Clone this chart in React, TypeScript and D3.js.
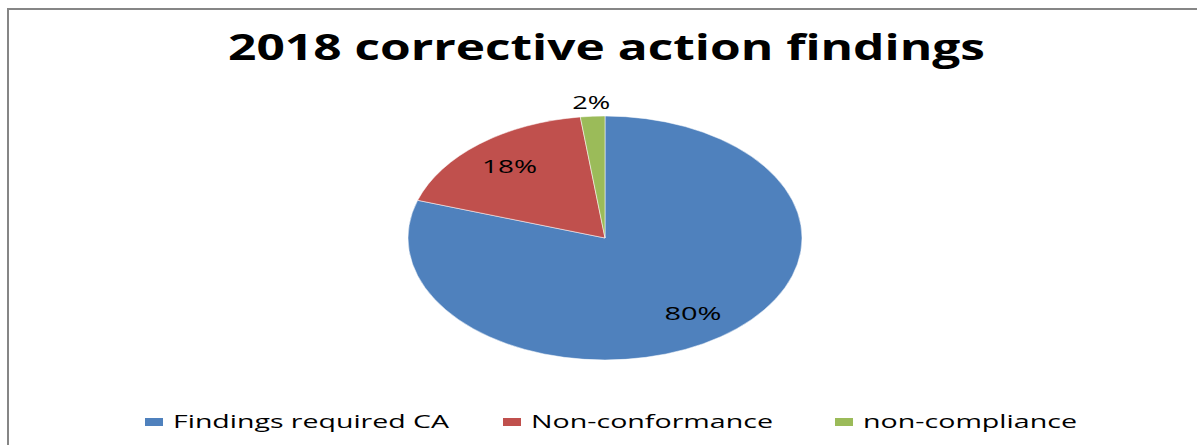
import React from "react";
import * as d3 from "d3";

const categories = ["Findings required CA", "Non-conformance", "non-compliance"];
const values = [80, 18, 2];
const labels = ["80%", "18%", "2%"];
const colors = ["#4F81BD", "#C0504D", "#9BBB59"];
const title = "2018 corrective action findings";

const W = 1197;
const H = 445;
const cx = 605;
const cy = 238;
const rx = 197;
const ry = 122;

// measured label widths in the reference (text is horizontally stretched)
const labelWidths = [57, 55, 38];
const legendTextWidths = [276, 242, 214];
const legendX = [145, 503, 835];

export default function App() {
  const pie = d3.pie<number>().sort(null).value((d) => d)(values);
  const arc = d3.arc<d3.PieArcDatum<number>>().innerRadius(0).outerRadius(ry);
  const total = d3.sum(values);
  const font = "'Open Sans', 'Liberation Sans', sans-serif";

  return (
    <svg
      width={W}
      height={H}
      style={{ position: "absolute", left: 0, top: 0, display: "block", background: "#fff" }}
    >
      <rect x={8} y={9} width={1400} height={600} fill="#fff" stroke="#868686" strokeWidth={2} />
      <text
        x={228}
        y={60}
        fontFamily={font}
        fontWeight={700}
        fontSize={35}
        fill="#000"
        textLength={757}
        lengthAdjust="spacingAndGlyphs"
      >
        {title}
      </text>
      <g transform={`translate(${cx},${cy}) scale(${rx / ry},1)`}>
        {pie.map((p, i) => (
          <path key={i} d={arc(p) || ""} fill={colors[i]} stroke="#fff" strokeWidth={0.4} />
        ))}
      </g>
      {pie.map((p, i) => {
        const mid = (p.startAngle + p.endAngle) / 2;
        const frac = values[i] / total;
        const f = frac < 0.05 ? 1.11 : 0.76;
        const lx = cx + Math.sin(mid) * rx * f;
        const ly = cy - Math.cos(mid) * ry * f;
        const w = labelWidths[i];
        return (
          <text
            key={i}
            x={lx - w / 2}
            y={ly + 6.5}
            fontFamily={font}
            fontSize={18}
            fill="#000"
            textLength={w}
            lengthAdjust="spacingAndGlyphs"
          >
            {labels[i]}
          </text>
        );
      })}
      {categories.map((c, i) => (
        <g key={c}>
          <rect x={legendX[i]} y={418} width={18} height={8} fill={colors[i]} />
          <text
            x={legendX[i] + 28}
            y={428}
            fontFamily={font}
            fontSize={18}
            fill="#000"
            textLength={legendTextWidths[i]}
            lengthAdjust="spacingAndGlyphs"
          >
            {c}
          </text>
        </g>
      ))}
    </svg>
  );
}
